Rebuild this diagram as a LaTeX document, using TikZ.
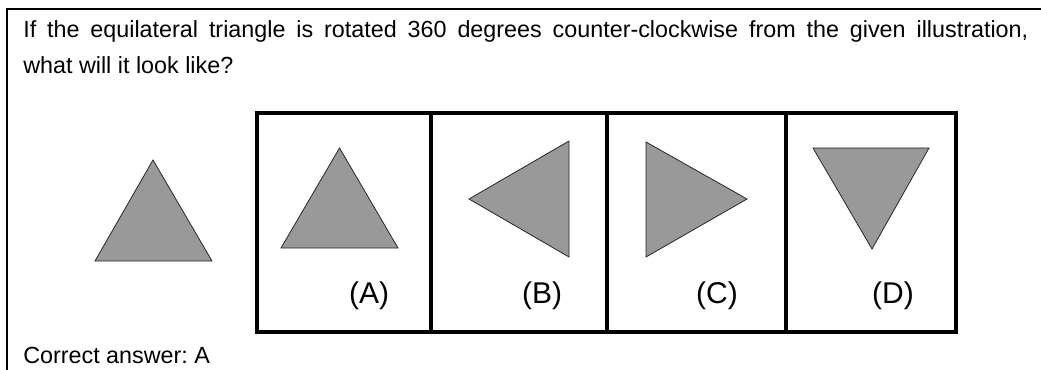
\documentclass[tikz,border=0pt]{standalone}
\usepackage{fontspec}
\setmainfont{Liberation Sans}
\frenchspacing
\definecolor{trigray}{HTML}{999999}
\tikzset{
  tri/.style={fill=trigray,draw=black!85,line width=.6pt},
  panel/.style={line width=3pt},
  txt/.style={inner sep=0,font=\fontsize{17.5}{27}\selectfont},
}
\begin{document}
\begin{tikzpicture}[x=.75pt,y=-.75pt]
  \useasboundingbox (0,0) rectangle (1041,370);
  \draw[line width=1.5pt] (7,370) -- (7,9) -- (1041,9);
  \node[txt,anchor=north west,text width=753.75pt,align=justify] (question) at (23,20)
    {If the equilateral triangle is rotated 360 degrees counter-clockwise from the given illustration,\linebreak what will it look like?};
  % answer panels
  \draw[panel] (257,113) rectangle (956,332);
  \foreach \x in {431,607,786}
    \draw[panel] (\x,113) -- (\x,332);
  % given triangle and the four choices
  \draw[tri] (153,160) -- (95,261) -- (212,261) -- cycle;
  \draw[tri] (339.5,148) -- (281,248) -- (398,248) -- cycle;
  \draw[tri] (469,199) -- (569,141) -- (569,257) -- cycle;
  \draw[tri] (646,142) -- (747,199) -- (646,257) -- cycle;
  \draw[tri] (813,148) -- (929,148) -- (872,249) -- cycle;
  \foreach \x/\lab in {369/A,542/B,717/C,893/D}
    \node[font=\fontsize{22.5}{26}\selectfont] (choice\lab) at (\x,296) {(\lab)};
  \node[txt,anchor=base west] (answer) at (23,363) {Correct answer: A};
\end{tikzpicture}
\end{document}
